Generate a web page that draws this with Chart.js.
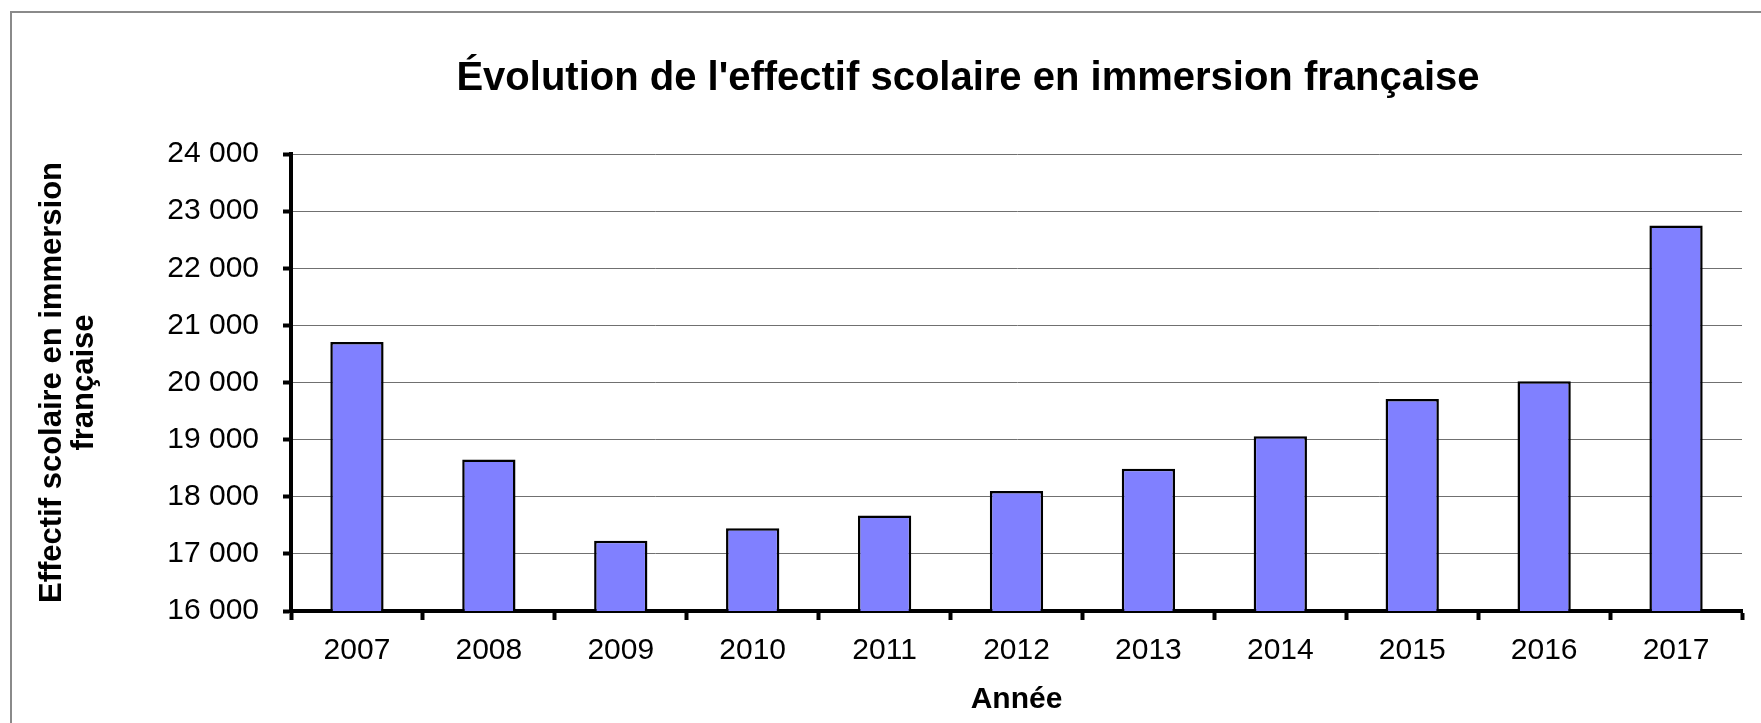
<!DOCTYPE html>
<html lang="fr">
<head>
<meta charset="utf-8">
<script src="https://cdn.jsdelivr.net/npm/chart.js@4"></script>
<style>
  html, body { margin: 0; padding: 0; background: #ffffff; overflow: hidden; }
  #wrap { position: relative; width: 1761px; height: 723px; }
  #c { position: absolute; left: 0; top: 0; }
  #frame { position: absolute; left: 10px; top: 11px; width: 1800px; height: 800px;
           border: 2px solid #8a8a8a; box-sizing: border-box; pointer-events: none; }
</style>
</head>
<body>
<div id="wrap">
  <canvas id="c" width="1761" height="723"></canvas>
  <div id="frame"></div>
</div>
<script>
const chartTitle = "Évolution de l'effectif scolaire en immersion française";
const xAxisTitle = "Année";
const yAxisTitle = ["Effectif scolaire en immersion", "française"];
const years = ["2007", "2008", "2009", "2010", "2011", "2012", "2013", "2014", "2015", "2016", "2017"];
const enrolment = [20710, 18650, 17230, 17450, 17670, 18100, 18490, 19060, 19710, 20020, 22750];
const yMin = 16000;
const yMax = 24000;
const yStep = 1000;

const FONT = "'Liberation Sans', Arial, Helvetica, sans-serif";

function formatThousands(v) {
  return String(Math.round(v)).replace(/\B(?=(\d{3})+(?!\d))/g, " ");
}

const titlePlugin = {
  id: 'positionedTitle',
  afterDraw(chart) {
    const ctx = chart.ctx;
    ctx.save();
    ctx.font = "bold 40px " + FONT;
    ctx.fillStyle = "#000";
    ctx.textAlign = "center";
    ctx.textBaseline = "alphabetic";
    ctx.fillText(chartTitle, 968, 90);
    ctx.restore();
  }
};

new Chart(document.getElementById('c'), {
  type: 'bar',
  data: {
    labels: years,
    datasets: [{
      label: "Effectif",
      data: enrolment,
      backgroundColor: "#8080FF",
      borderColor: "#000000",
      borderWidth: 2.5,
      barPercentage: 0.404,
      categoryPercentage: 1.0
    }]
  },
  plugins: [titlePlugin],
  options: {
    responsive: false,
    animation: false,
    devicePixelRatio: 1,
    layout: { padding: { top: 154, right: 19, bottom: 1, left: 0 } },
    plugins: {
      legend: { display: false },
      tooltip: { enabled: false },
      title: { display: false }
    },
    scales: {
      x: {
        offset: true,
        grid: {
          offset: true,
          drawOnChartArea: false,
          drawTicks: true,
          tickLength: 9,
          tickWidth: 4,
          tickColor: "#000000"
        },
        border: { display: true, color: "#000000", width: 4 },
        ticks: {
          color: "#000000",
          padding: 13,
          font: { family: FONT, size: 30 }
        },
        title: {
          display: true,
          text: xAxisTitle,
          color: "#000000",
          font: { family: FONT, size: 30, weight: 'bold' },
          padding: { top: 0, bottom: 4 }
        }
      },
      y: {
        min: yMin,
        max: yMax,
        afterFit(scale) { scale.width = 291; },
        grid: {
          color: "#707070",
          lineWidth: 1,
          drawTicks: true,
          tickLength: 8,
          tickWidth: 4,
          tickColor: "#000000"
        },
        border: { display: true, color: "#000000", width: 4 },
        ticks: {
          stepSize: yStep,
          color: "#000000",
          padding: 24,
          font: { family: FONT, size: 30 },
          callback: (v) => formatThousands(v)
        },
        title: {
          display: true,
          text: yAxisTitle,
          color: "#000000",
          font: { family: FONT, size: 31, weight: 'bold', lineHeight: 1.05 },
          padding: { top: 36, bottom: 20 }
        }
      }
    }
  }
});
</script>
</body>
</html>
